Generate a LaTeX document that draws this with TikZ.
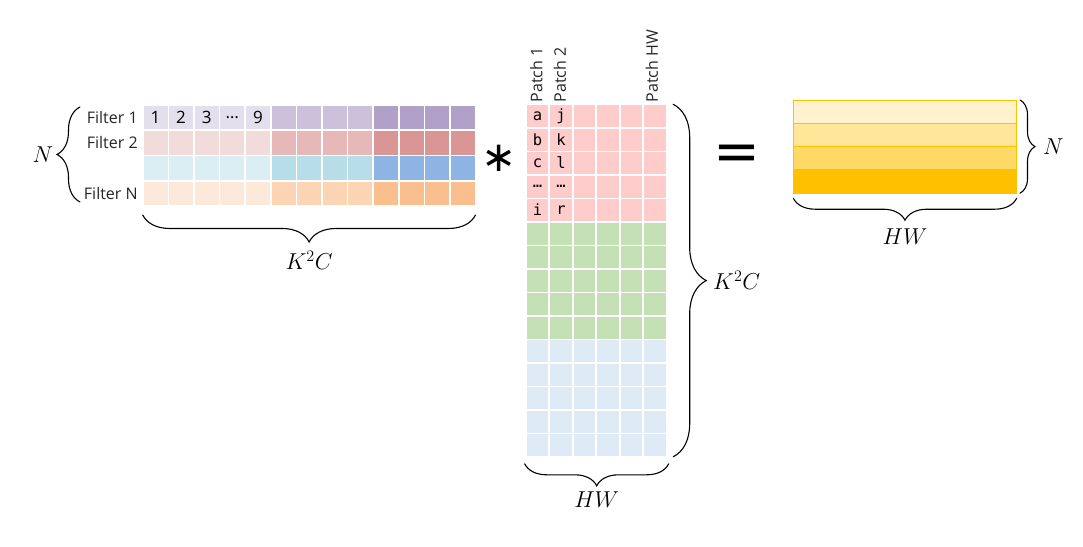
\RequirePackage{fix-cm}
\documentclass[tikz,border=0pt]{standalone}
\usepackage{fontspec}
\setmainfont{Open Sans}
\setmonofont{DejaVu Sans Mono}
\newfontfamily\symfont{DejaVu Sans}
\usetikzlibrary{positioning,decorations.pathreplacing}
\definecolor{purA}{HTML}{E4DFEC}
\definecolor{purB}{HTML}{CCC0DA}
\definecolor{purC}{HTML}{B1A0C7}
\definecolor{redA}{HTML}{F2DCDB}
\definecolor{redB}{HTML}{E6B8B7}
\definecolor{redC}{HTML}{DA9694}
\definecolor{bluA}{HTML}{DAEEF3}
\definecolor{bluB}{HTML}{B7DEE8}
\definecolor{bluC}{HTML}{8DB4E2}
\definecolor{orgA}{HTML}{FDE9D9}
\definecolor{orgB}{HTML}{FCD5B4}
\definecolor{orgC}{HTML}{FABF8F}
\definecolor{patA}{HTML}{FFCCCC}
\definecolor{patB}{HTML}{C5E0B4}
\definecolor{patC}{HTML}{DEEBF7}
\definecolor{outA}{HTML}{FFF2CC}
\definecolor{outB}{HTML}{FFE699}
\definecolor{outC}{HTML}{FFD966}
\definecolor{outD}{HTML}{FFC000}
\begin{document}
\begin{tikzpicture}[x=1pt,y=-1pt]
			\tikzstyle{every node}+=[inner sep=0pt, outer sep=0pt]
			\tikzstyle{lcell}=[draw=white, line width=1.6pt, minimum width=25.6pt, minimum height=25.25pt]
			\tikzstyle{pcell}=[draw=white, line width=1.6pt, minimum width=23.5pt, minimum height=23.5pt]
			\tikzstyle{ocell}=[draw=outD, line width=1pt, minimum width=223.4pt, minimum height=23.3pt]
			\tikzstyle{rowlab}=[anchor=east, font=\fontsize{16}{18}\selectfont, text=black!85]
			\tikzstyle{celltxt}=[font=\fontsize{17}{18}\selectfont]
			\tikzstyle{lettxt}=[font=\ttfamily\fontsize{15.5}{18}\selectfont]
			\tikzstyle{patchlab}=[rotate=90, anchor=west, font=\fontsize{16}{18}\selectfont, text=black!85]
			\tikzstyle{mlab}=[font=\fontsize{23}{26}\selectfont]
			\tikzstyle{brc}=[decorate, line width=1.1pt, line cap=round]
			\useasboundingbox (0,0) rectangle (1083,546);
			\foreach \r/\c in {1/pur,2/red,3/blu,4/org}
				\foreach \k/\g in {1/A,2/A,3/A,4/A,5/A,6/B,7/B,8/B,9/B,10/C,11/C,12/C,13/C}
					\node[lcell, fill=\c\g] (f-\r-\k) at ({155.5+25.6*(\k-1)}, {117.6+25.25*(\r-1)}) {};
			\foreach \k/\t in {1/1,2/2,3/3,4/…,5/9}
				\node[celltxt] (d-\k) at (f-1-\k) {\t};
			\node[rowlab] (fl1) at ([xshift=-5pt]f-1-1.west) {Filter 1};
			\node[rowlab] (fl2) at ([xshift=-5pt]f-2-1.west) {Filter 2};
			\node[rowlab] (fln) at ([xshift=-5pt]f-4-1.west) {Filter N};
			\draw[brc, decoration={brace, amplitude=23pt}] ([xshift=-62.7pt, yshift=4pt]f-4-1.south west) -- ([xshift=-62.7pt, yshift=-2pt]f-1-1.north west) node[mlab, midway, left=27pt] (nl) {$N$};
			\draw[brc, decoration={brace, amplitude=27pt}] ([yshift=-9pt]f-4-13.south east) -- ([yshift=-9pt]f-4-1.south west) node[mlab, midway, below=36pt] (kc1) {$K^2C$};
			\node[font=\symfont\fontsize{42}{44}\selectfont] (ast) at (499,158) {∗};
			\foreach \b/\c in {0/patA,1/patB,2/patC}
				\foreach \r in {1,...,5}
					\foreach \k in {1,...,6}{
						\pgfmathtruncatemacro\rr{5*\b+\r}
						\node[pcell, fill=\c] (p-\rr-\k) at ({537.45+23.5*(\k-1)}, {116.05+23.5*(\rr-1)}) {};
					}
			\foreach \r/\a/\j in {1/a/j,2/b/k,3/c/l,4/…/…,5/i/r}{
				\node[lettxt] (la-\r) at (p-\r-1) {\a};
				\node[lettxt] (lj-\r) at (p-\r-2) {\j};
			}
			\node[patchlab] (pt1) at ([xshift=-1pt, yshift=2pt]p-1-1.north) {Patch 1};
			\node[patchlab] (pt2) at ([xshift=-1pt, yshift=2pt]p-1-2.north) {Patch 2};
			\node[patchlab] (pthw) at ([xshift=-3pt, yshift=2pt]p-1-6.north) {Patch HW};
			\draw[brc, decoration={brace, amplitude=33pt}] ([xshift=6.5pt]p-1-6.north east) -- ([xshift=6.5pt]p-15-6.south east) node[mlab, midway, right=40pt] (kc2) {$K^2C$};
			\draw[brc, decoration={brace, amplitude=22pt}] ([xshift=2pt, yshift=-7pt]p-15-6.south east) -- ([xshift=-1pt, yshift=-7pt]p-15-1.south west) node[mlab, midway, below=28pt] (hw1) {$HW$};
			\node[font=\symfont\fontsize{56}{60}\selectfont] (eq) at (737,158) {=};
			\foreach \r/\c in {1/outA,2/outB,3/outC,4/outD}
				\node[ocell, fill=\c] (o-\r) at (905, {111.65+23.3*(\r-1)}) {};
			\draw[brc, decoration={brace, amplitude=15pt}] ([xshift=3.3pt]o-1.north east) -- ([xshift=3.3pt]o-4.south east) node[mlab, midway, right=23pt] (no) {$N$};
			\draw[brc, decoration={brace, amplitude=22pt}] ([yshift=-5pt]o-4.south east) -- ([yshift=-5pt]o-4.south west) node[mlab, midway, below=31pt] (hw2) {$HW$};
\end{tikzpicture}
\end{document}
